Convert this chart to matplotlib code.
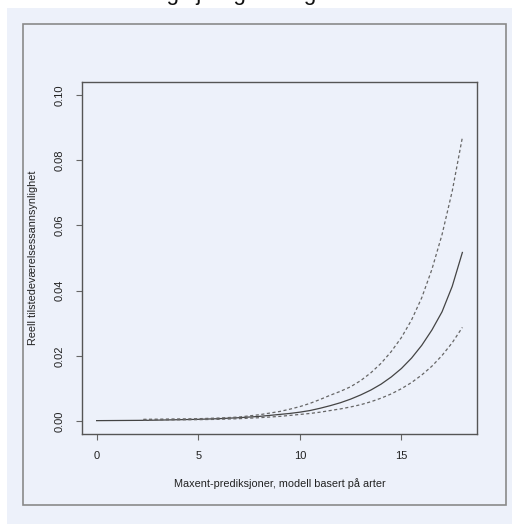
import matplotlib
matplotlib.use("Agg")
import matplotlib.pyplot as plt
from matplotlib.patches import Rectangle

# verdier lest av figuren
x_fit = [0, 2.5, 5, 6, 7, 8, 9, 9.5, 10, 10.5, 11, 11.5, 12, 12.5, 13, 13.5,
         14, 14.5, 15, 15.5, 16, 16.5, 17, 17.5, 18]
y_fit = [0.0001, 0.0002, 0.0005, 0.0007, 0.0010, 0.0014, 0.0020, 0.0023,
         0.0027, 0.0032, 0.0039, 0.0047, 0.0056, 0.0067, 0.0080, 0.0095,
         0.0113, 0.0135, 0.0161, 0.0193, 0.0232, 0.0279, 0.0335, 0.0413, 0.0517]

x_ci = [2.3, 5, 6, 7, 8, 9, 9.5, 10, 10.5, 11, 11.5, 12, 12.5, 13, 13.5,
        14, 14.5, 15, 15.5, 16, 16.5, 17, 17.5, 18]
y_upper = [0.0005, 0.0007, 0.0009, 0.0012, 0.0019, 0.0029, 0.0036, 0.0044,
           0.0054, 0.0066, 0.0079, 0.0091, 0.0105, 0.0124, 0.0148, 0.0177,
           0.0213, 0.0256, 0.0310, 0.0378, 0.0465, 0.0572, 0.0705, 0.0870]
y_lower = [0.0003, 0.0004, 0.0005, 0.0007, 0.0010, 0.0014, 0.0017, 0.0020,
           0.0023, 0.0027, 0.0032, 0.0037, 0.0043, 0.0050, 0.0059, 0.0070,
           0.0083, 0.0099, 0.0118, 0.0141, 0.0168, 0.0201, 0.0240, 0.0287]

x_ticks = [0, 5, 10, 15]
y_ticks = [0.00, 0.02, 0.04, 0.06, 0.08, 0.10]

bg = '#edf1fa'
txt = '#222222'

plt.rcParams['font.family'] = ['Liberation Sans', 'DejaVu Sans']

fig = plt.figure(figsize=(5.12, 5.24), dpi=100)
W, H = 512, 524

# lyseblaa bakgrunn og ramme
fig.patches.append(Rectangle((7 / W, 0), 1, 1 - 8 / H, transform=fig.transFigure,
                             facecolor=bg, edgecolor='none', zorder=-3))
fig.patches.append(Rectangle((23 / W, 1 - 505 / H), (506 - 23) / W, (505 - 24) / H,
                             transform=fig.transFigure, facecolor='none',
                             edgecolor='#8a8a8a', linewidth=1.2, zorder=-2))
# avkuttet overskrift over figuren
fig.text(28 / W, 1.0, 'Marine arter og sjøfugl i Norge', fontsize=16,
         color='#111111', va='baseline', ha='left', zorder=-1)

ax = fig.add_axes([82 / W, 1 - 434 / H, (477 - 82) / W, (434 - 82) / H])
ax.set_facecolor(bg)

ax.plot(x_fit, y_fit, color='#444444', linewidth=0.9)
ax.plot(x_ci, y_upper, color='#666666', linewidth=0.9, linestyle=(0, (2.5, 2)))
ax.plot(x_ci, y_lower, color='#666666', linewidth=0.9, linestyle=(0, (2.5, 2)))

ax.set_xlim(-0.72, 18.72)
ax.set_ylim(-0.004, 0.104)
ax.set_xticks(x_ticks)
ax.set_yticks(y_ticks)
ax.set_xticklabels([str(t) for t in x_ticks])
ax.set_yticklabels([f'{t:.2f}' for t in y_ticks], rotation=90, va='center')

for s in ax.spines.values():
    s.set_color('#555555')
    s.set_linewidth(1.0)
ax.tick_params(direction='out', length=4.5, width=0.8, color='#666666',
               labelsize=8, labelcolor=txt, pad=8)

ax.set_xlabel('Maxent-prediksjoner, modell basert på arter', fontsize=7.8,
              color=txt, labelpad=12)
ax.set_ylabel('Reell tilstedeværelsessannsynlighet', fontsize=7.8,
              color=txt, labelpad=12)

fig.savefig('out.png', dpi=100, facecolor='white')
